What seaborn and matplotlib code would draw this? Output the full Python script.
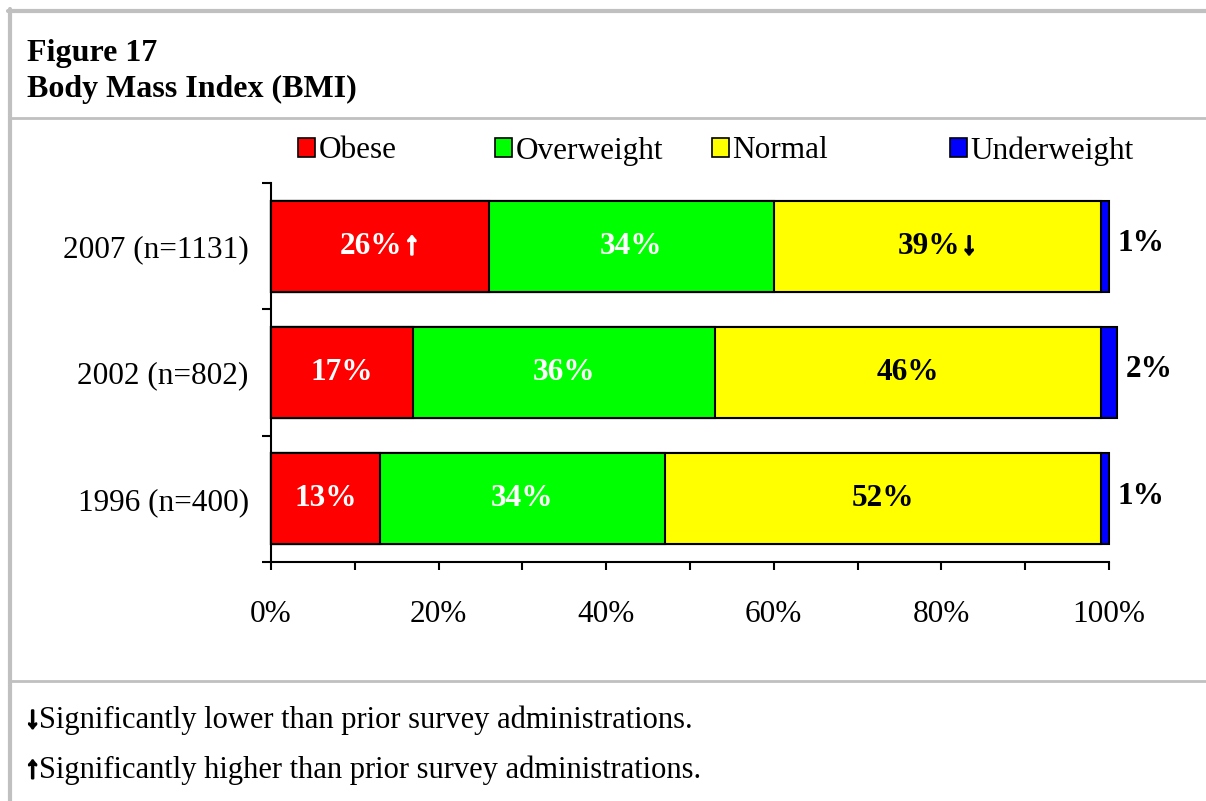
import matplotlib
matplotlib.use("Agg")
import matplotlib.pyplot as plt
from matplotlib.lines import Line2D
from matplotlib.patches import Patch
from matplotlib.offsetbox import AnnotationBbox, HPacker, TextArea
from matplotlib import patheffects
from matplotlib.ticker import FixedLocator, PercentFormatter
import numpy as np
import seaborn as sns

# ----------------------------------------------------------------------------
# Data (percent of respondents)
# ----------------------------------------------------------------------------
years = ["2007 (n=1131)", "2002 (n=802)", "1996 (n=400)"]
segments = ["Obese", "Overweight", "Normal", "Underweight"]
obese = [26, 17, 13]
overweight = [34, 36, 34]
normal = [39, 46, 52]
underweight = [1, 2, 1]
obese_flag = ["\u2191", "", ""]   # significantly higher
normal_flag = ["\u2193", "", ""]  # significantly lower

colors = {"Obese": "#ff0000", "Overweight": "#00ff00",
          "Normal": "#ffff00", "Underweight": "#0000ff"}
label_color = {"Obese": "white", "Overweight": "white",
               "Normal": "black", "Underweight": "black"}

sns.set_style("white", {"text.color": "black", "xtick.color": "black",
                        "ytick.color": "black", "axes.labelcolor": "black"})
plt.rcParams["font.family"] = ["Liberation Serif", "DejaVu Serif"]
FS = 22.5
EDGE = 1.5
GRAY = "#c0c0c0"

fig = plt.figure(figsize=(12.06, 8.01), dpi=100)
W, H = 1206, 801


def fx(px):
    return px / W


def fy(py):
    return 1 - py / H


def heavy(color):
    # arrows in the original are drawn heavier than the serif glyph
    return [patheffects.withStroke(linewidth=1.6, foreground=color)]


ax = fig.add_axes([fx(271), fy(562), fx(1109) - fx(271), fy(183) - fy(562)])

values = {"Obese": obese, "Overweight": overweight,
          "Normal": normal, "Underweight": underweight}
stack = np.array([values[s] for s in segments], dtype=float)
cum = np.cumsum(stack, axis=0)

# stacked bars: draw cumulative totals from the longest down
for k in range(len(segments) - 1, -1, -1):
    sns.barplot(x=cum[k], y=years, order=years, orient="h",
                color=colors[segments[k]], saturation=1, errorbar=None,
                width=0.72, edgecolor="black", linewidth=EDGE, ax=ax)
for p in ax.patches:
    p.set_clip_on(False)  # 2002 sums to 101%

# value labels
flags = {"Obese": obese_flag, "Normal": normal_flag}
for k, seg in enumerate(segments):
    for i in range(len(years)):
        val = stack[k, i]
        txt = f"{int(val)}%"
        flag = flags.get(seg, [""] * 3)[i]
        c = label_color[seg]
        if seg == "Underweight":
            ax.annotate(txt, (cum[k, i], i), xytext=(6, 2),
                        textcoords="offset points", ha="left", va="center",
                        fontsize=FS, fontweight="bold", color=c,
                        annotation_clip=False)
        elif flag:
            box = HPacker(children=[
                TextArea(txt, textprops=dict(fontsize=FS, fontweight="bold", color=c)),
                TextArea(flag, textprops=dict(fontsize=FS, fontweight="bold", color=c,
                                              path_effects=heavy(c))),
            ], pad=0, sep=1, align="baseline")
            ax.add_artist(AnnotationBbox(box, (cum[k, i] - val / 2, i),
                                         frameon=False, box_alignment=(0.5, 0.5),
                                         pad=0))
        else:
            ax.text(cum[k, i] - val / 2, i, txt, ha="center", va="center",
                    fontsize=FS, fontweight="bold", color=c)

ax.set_xlim(0, 100)
ax.set_ylim(2.5, -0.5)
ax.set_xlabel("")
ax.set_ylabel("")
ax.xaxis.set_major_locator(FixedLocator([0, 20, 40, 60, 80, 100]))
ax.xaxis.set_minor_locator(FixedLocator([10, 30, 50, 70, 90]))
ax.xaxis.set_major_formatter(PercentFormatter(decimals=0))
ax.yaxis.set_minor_locator(FixedLocator([-0.5, 0.5, 1.5, 2.5]))
ax.tick_params(axis="x", which="both", direction="out", length=6,
               width=EDGE, color="black", bottom=True, labelsize=FS, pad=21)
ax.tick_params(axis="y", which="major", length=0, labelsize=FS, pad=16)
ax.tick_params(axis="y", which="minor", direction="out", length=6.5,
               width=EDGE, color="black", left=True)
for side in ["top", "right"]:
    ax.spines[side].set_visible(False)
for side in ["left", "bottom"]:
    ax.spines[side].set_color("black")
    ax.spines[side].set_linewidth(EDGE)
ax.grid(False)

# legend, one entry per position as in the original
legend_x = [298, 495, 712, 950]
for seg, x in zip(segments, legend_x):
    h = Patch(facecolor=colors[seg], edgecolor="black", linewidth=1.2, label=seg)
    fig.legend(handles=[h], loc="center left",
               bbox_to_anchor=(fx(x), fy(151)), frameon=False,
               fontsize=FS, handlelength=0.55, handleheight=0.55,
               handletextpad=0.1, borderpad=0, borderaxespad=0)

# frame and separators
fig.add_artist(Line2D([fx(8), 1], [fy(11), fy(11)], color=GRAY, lw=3,
                      transform=fig.transFigure))
fig.add_artist(Line2D([fx(10), fx(10)], [fy(9), 0], color=GRAY, lw=3,
                      transform=fig.transFigure))
fig.add_artist(Line2D([fx(10), 1], [fy(118), fy(118)], color=GRAY, lw=2,
                      transform=fig.transFigure))
fig.add_artist(Line2D([fx(10), 1], [fy(681), fy(681)], color=GRAY, lw=2,
                      transform=fig.transFigure))

# header
fig.text(fx(27), fy(54), "Figure 17", fontsize=23, fontweight="bold",
         ha="left", va="center")
fig.text(fx(27), fy(89), "Body Mass Index (BMI)", fontsize=23,
         fontweight="bold", ha="left", va="center")

# footnotes
notes = [("\u2193", "Significantly lower than prior survey administrations.", 720),
         ("\u2191", "Significantly higher than prior survey administrations.", 770)]
for arrow, note, y in notes:
    fig.text(fx(25), fy(y), arrow, fontsize=22, ha="left", va="center",
             fontweight="bold", path_effects=heavy("black"))
    fig.text(fx(39), fy(y), note, fontsize=22, ha="left", va="center")

fig.savefig("out.png", dpi=100)
